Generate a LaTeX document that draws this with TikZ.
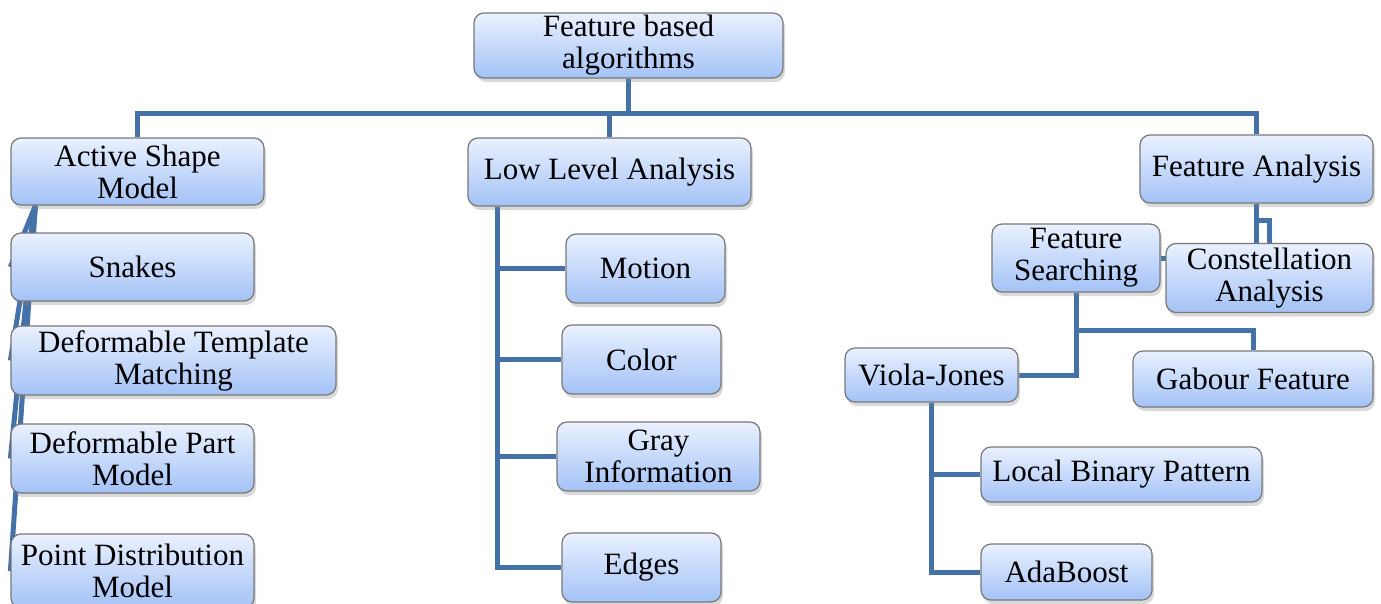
\documentclass[tikz,border=0pt]{standalone}
\usepackage{fontspec}
\setmainfont{Liberation Serif}
\usetikzlibrary{shadows,backgrounds,calc}
\definecolor{linkblue}{RGB}{68,114,168}
\definecolor{boxtop}{RGB}{234,241,255}
\definecolor{boxbot}{RGB}{163,194,246}
\definecolor{boxline}{RGB}{120,120,120}

\begin{document}
\begin{tikzpicture}[x=1pt,y=-1pt,
    box/.style={draw=boxline,line width=1.2pt,rounded corners=10pt,
      top color=boxtop,bottom color=boxbot,align=center,inner sep=2pt,
      font=\fontsize{31}{32}\selectfont,
      drop shadow={shadow xshift=2pt,shadow yshift=-4pt,opacity=0.3}},
    link/.style={draw=linkblue,line width=5pt}]
    \useasboundingbox (0,0) rectangle (1381,603);

    % top level
    \node[box,minimum width=309pt,minimum height=65pt] (root) at (628.5,45.5) {Feature based\\algorithms};

    % left column
    \node[box,minimum width=253pt,minimum height=67pt] (asm) at (137.5,171.5) {Active Shape\\Model};
    \node[box,minimum width=243pt,minimum height=68pt] (snakes) at (132.5,267) {Snakes};
    \node[box,minimum width=325pt,minimum height=69pt] (dtm) at (173.5,360.5) {Deformable Template\\Matching};
    \node[box,minimum width=243pt,minimum height=69pt] (dpm) at (132.5,458.5) {Deformable Part\\Model};
    \node[box,minimum width=243pt,minimum height=74pt] (pdm) at (132.5,571) {Point Distribution\\Model};

    % middle column
    \node[box,minimum width=283pt,minimum height=68pt] (lla) at (609.5,172) {Low Level Analysis};
    \node[box,minimum width=159pt,minimum height=69pt] (motion) at (645.5,268.5) {Motion};
    \node[box,minimum width=159pt,minimum height=69pt] (color) at (641.5,359.5) {Color};
    \node[box,minimum width=203pt,minimum height=69pt] (gray) at (658.5,456.5) {Gray\\Information};
    \node[box,minimum width=159pt,minimum height=69pt] (edges) at (641.5,567.5) {Edges};

    % right column
    \node[box,minimum width=233pt,minimum height=68pt] (fa) at (1256.5,169) {Feature Analysis};
    \node[box,minimum width=168pt,minimum height=68pt] (fs) at (1076,258) {Feature\\Searching};
    \node[box,minimum width=207pt,minimum height=69pt] (ca) at (1269.5,278) {Constellation\\Analysis};
    \node[box,minimum width=173pt,minimum height=54pt] (vj) at (931.5,375) {Viola-Jones};
    \node[box,minimum width=240pt,minimum height=56pt] (gab) at (1253,379) {Gabour Feature};
    \node[box,minimum width=281pt,minimum height=55pt] (lbp) at (1121.5,474.5) {Local Binary Pattern};
    \node[box,minimum width=171pt,minimum height=56pt] (ada) at (1066.5,572) {AdaBoost};

    \begin{scope}[on background layer]
        \draw[link] (root.south) -- ++(0,35) -| (asm.north);
        \draw[link] (root.south) -- ++(0,35) -| (lla.north);
        \draw[link] (root.south) -- ++(0,35) -| (fa.north);
        \foreach \n in {snakes,dtm,dpm,pdm}
            \draw[link] ($(asm.south west)+(25,0)$) -- (\n.west);
        \foreach \n in {motion,color,gray,edges}
            \draw[link] ($(lla.south west)+(30,0)$) |- (\n.west);
        \draw[link] (fa.south) |- (fs.east);
        \draw[link] (fa.south) -- ++(0,17) -| (ca.north);
        \draw[link] (fs.south) -- ++(0,38) -| (gab.north);
        \draw[link] (fs.south) |- (vj.east);
        \draw[link] (vj.south) |- (lbp.west);
        \draw[link] (vj.south) |- (ada.west);
    \end{scope}
\end{tikzpicture}
\end{document}
